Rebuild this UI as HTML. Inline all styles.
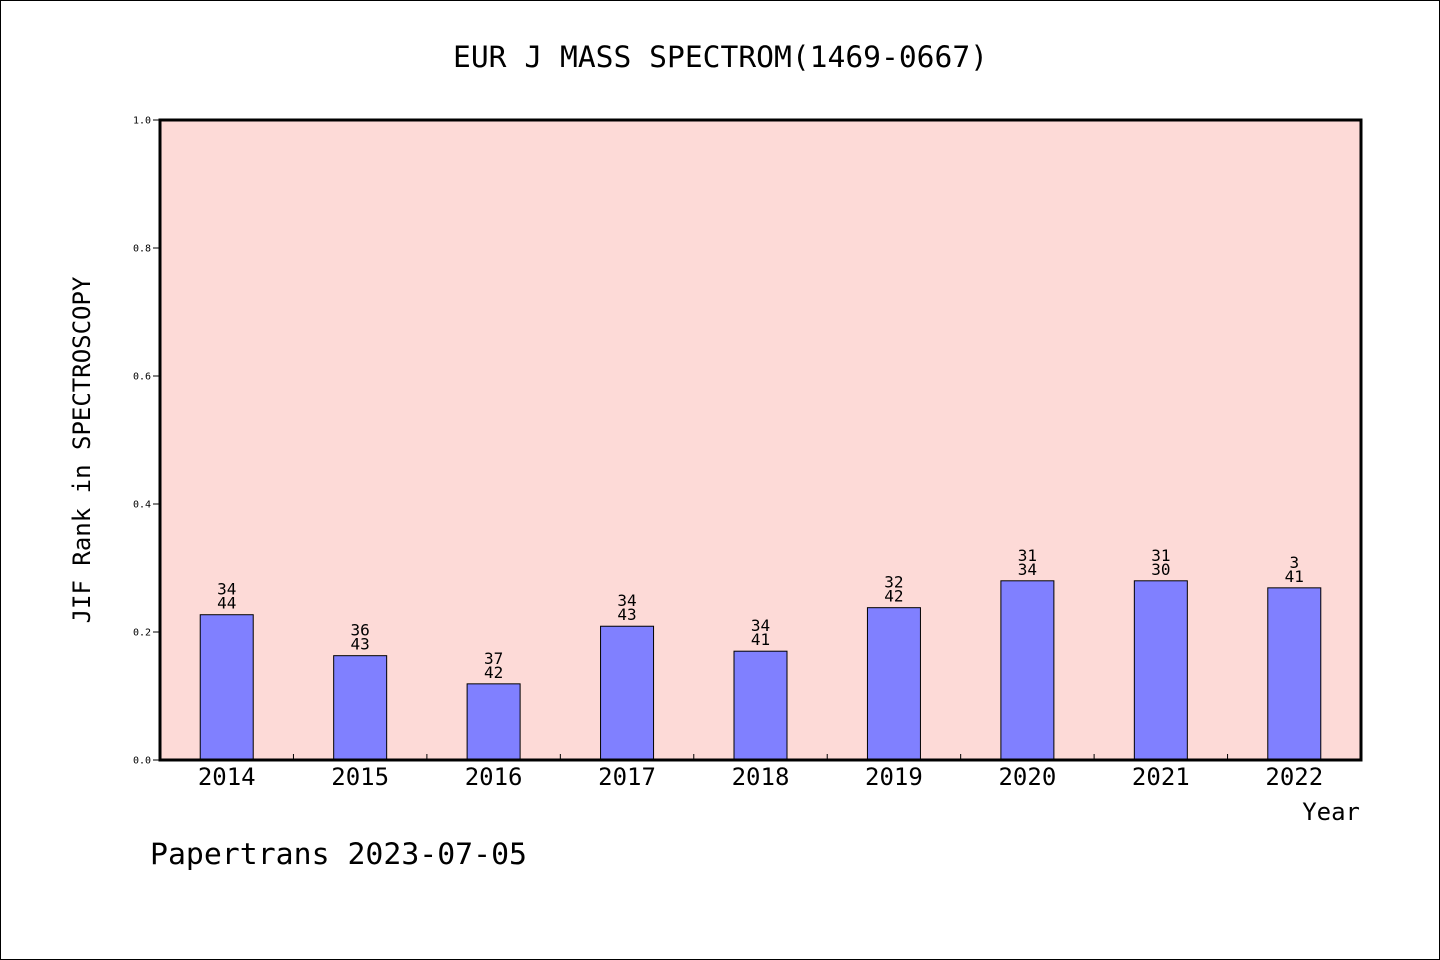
<!DOCTYPE html>
<html><head><meta charset="utf-8"><style>
body{margin:0;background:#fff}
svg{display:block}
text{font-family:"DejaVu Sans Mono","Liberation Mono",monospace;fill:#000}
</style></head><body>
<svg width="1440" height="960">
<rect x="0.5" y="0.5" width="1439" height="959" fill="#fff" stroke="#000"/>
<text x="453" y="67" font-size="29" textLength="535" lengthAdjust="spacingAndGlyphs">EUR J MASS SPECTROM(1469-0667)</text>
<rect x="160" y="120" width="1201" height="640" fill="#fddad7"/>
<g id="g"></g>
<rect x="160" y="120" width="1201" height="640" fill="none" stroke="#000" stroke-width="3"/>
<text transform="translate(90,450) rotate(-90)" text-anchor="middle" font-size="24">JIF Rank in SPECTROSCOPY</text>
<text x="1360" y="820" text-anchor="end" font-size="24">Year</text>
<text x="150" y="864" font-size="29" textLength="377" lengthAdjust="spacingAndGlyphs">Papertrans 2023-07-05</text>
</svg>
<script>
const years=['2014','2015','2016','2017','2018','2019','2020','2021','2022'];
const values=[0.227,0.163,0.119,0.209,0.170,0.238,0.280,0.280,0.269];
const topLabels=['34','36','37','34','34','32','31','31','3'];
const botLabels=['44','43','42','43','41','42','34','30','41'];
const yTicks=[0,0.2,0.4,0.6,0.8,1.0];
const X0=160,W=1201,Y0=760,H=640;
const xs=i=>X0+W/years.length*(i+0.5);
const ys=v=>Y0-v*H;
const g=document.getElementById('g');
const NS='http://www.w3.org/2000/svg';
function mk(t,a){const e=document.createElementNS(NS,t);for(const k in a)e.setAttribute(k,a[k]);g.appendChild(e);return e;}
yTicks.forEach(v=>{
 const l=mk('line',{x1:153,x2:160,y1:ys(v),y2:ys(v),stroke:'#000'});
 
 
 const t=mk('text',{x:151,y:ys(v)+3.5,'text-anchor':'end','font-size':10,'font-family':'"Liberation Sans",sans-serif'});
 t.textContent=v.toFixed(1);
 
 
});
years.forEach((y,i)=>{
 if(i>0){const tk=mk('line',{x1:X0+W/years.length*i,x2:X0+W/years.length*i,y1:Y0,y2:Y0-6,stroke:'#000'});
 
 }
 const cx=xs(i),top=ys(values[i]);
 const b=mk('rect',{x:cx-26.5,y:top,width:53,height:Y0-top,fill:'#8080ff',stroke:'#000','stroke-width':1});
 
 
 const t1=mk('text',{x:cx,y:top-20,'text-anchor':'middle','font-size':16});
 t1.textContent=topLabels[i];
 
 
 const t2=mk('text',{x:cx,y:top-6,'text-anchor':'middle','font-size':16});
 t2.textContent=botLabels[i];
 
 
 const xl=mk('text',{x:cx,y:785,'text-anchor':'middle','font-size':24});
 xl.textContent=y;
 
 
});
</script>
</body></html>
